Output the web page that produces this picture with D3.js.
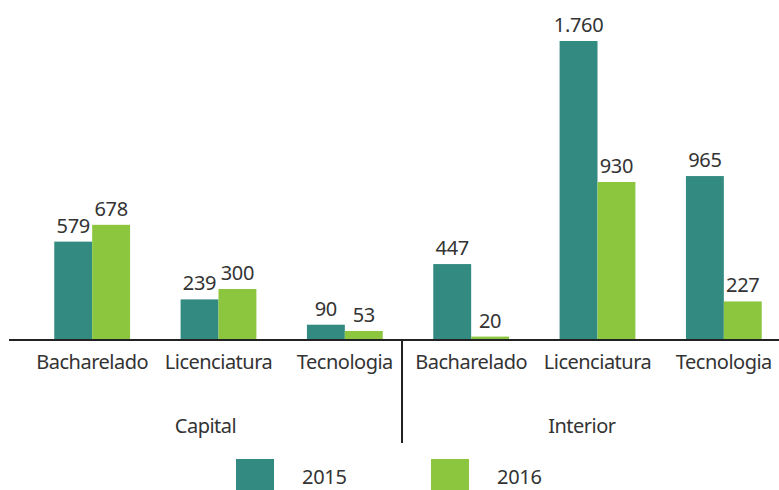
<!DOCTYPE html>
<html>
<head>
<meta charset="utf-8">
<script src="https://cdn.jsdelivr.net/npm/d3@7"></script>
<style>
  body { margin: 0; background: #fff; }
  svg { display: block; font-family: "Noto Sans", "Open Sans", sans-serif; }
</style>
</head>
<body>
<svg id="chart" width="779" height="490"></svg>
<script>
// data
var regions = ["Capital", "Interior"];
var courses = ["Bacharelado", "Licenciatura", "Tecnologia"];
var years = ["2015", "2016"];
var values2015 = [579, 239, 90, 447, 1760, 965];
var values2016 = [678, 300, 53, 20, 930, 227];

var colors = { "2015": "#338a80", "2016": "#8cc63f" };
var textColor = "#333";

var svg = d3.select("#chart");
var W = 779, H = 490;
var baseY = 340;

var pt = d3.formatLocale({ decimal: ",", thousands: ".", grouping: [3], currency: ["R$", ""] });
var fmt = pt.format(",d");

// build flat groups
var groups = [];
regions.forEach(function(r, ri) {
  courses.forEach(function(c, ci) {
    var i = ri * courses.length + ci;
    groups.push({ key: r + "|" + c, region: r, course: c, v: { "2015": values2015[i], "2016": values2016[i] } });
  });
});

var x0 = d3.scaleBand()
  .domain(groups.map(function(d) { return d.key; }))
  .range([29, 787])
  .paddingInner(0.4)
  .paddingOuter(0.2);

var x1 = d3.scaleBand()
  .domain(years)
  .range([0, x0.bandwidth()]);

var y = d3.scaleLinear()
  .domain([0, 1760])
  .range([baseY, 41]);

var g = svg.append("g");

var grp = g.selectAll("g.grp")
  .data(groups)
  .enter().append("g")
  .attr("class", "grp")
  .attr("transform", function(d) { return "translate(" + x0(d.key) + ",0)"; });

grp.selectAll("rect")
  .data(function(d) { return years.map(function(yr) { return { year: yr, value: d.v[yr] }; }); })
  .enter().append("rect")
  .attr("x", function(d) { return x1(d.year); })
  .attr("y", function(d) { return y(d.value); })
  .attr("width", x1.bandwidth())
  .attr("height", function(d) { return baseY - y(d.value); })
  .attr("fill", function(d) { return colors[d.year]; });

grp.selectAll("text.val")
  .data(function(d) { return years.map(function(yr) { return { year: yr, value: d.v[yr] }; }); })
  .enter().append("text")
  .attr("class", "val")
  .attr("x", function(d) { return x1(d.year) + x1.bandwidth() / 2; })
  .attr("y", function(d) { return y(d.value) - 9; })
  .attr("text-anchor", "middle")
  .attr("font-size", 20)
  .attr("letter-spacing", -0.3)
  .attr("fill", textColor)
  .text(function(d) { return fmt(d.value); });

// x axis line
var axisLeft = 9;
g.append("line")
  .attr("x1", axisLeft).attr("x2", W)
  .attr("y1", baseY).attr("y2", baseY)
  .attr("stroke", "#222").attr("stroke-width", 2);

// course labels
grp.append("text")
  .attr("x", x0.bandwidth() / 2)
  .attr("y", baseY + 29)
  .attr("text-anchor", "middle")
  .attr("font-size", 20)
  .attr("letter-spacing", -0.5)
  .attr("fill", textColor)
  .text(function(d) { return d.course; });

// divider between regions
var divX = 402;
g.append("line")
  .attr("x1", divX).attr("x2", divX)
  .attr("y1", baseY).attr("y2", 443)
  .attr("stroke", "#222").attr("stroke-width", 2);

// region labels
var lastKey = groups[groups.length - 1].key;
var regionCenters = [(axisLeft + divX) / 2, (divX + x0(lastKey) + x0.bandwidth()) / 2];
g.selectAll("text.region")
  .data(regions)
  .enter().append("text")
  .attr("class", "region")
  .attr("x", function(d, i) { return regionCenters[i]; })
  .attr("y", 433)
  .attr("text-anchor", "middle")
  .attr("font-size", 20)
  .attr("letter-spacing", -0.5)
  .attr("fill", textColor)
  .text(function(d) { return d; });

// legend
var legend = svg.append("g");
var lg = legend.selectAll("g")
  .data(years)
  .enter().append("g")
  .attr("transform", function(d, i) { return "translate(" + (236 + i * 195) + ",459)"; });
lg.append("rect")
  .attr("width", 38).attr("height", 31)
  .attr("fill", function(d) { return colors[d]; });
lg.append("text")
  .attr("x", 66).attr("y", 25)
  .attr("font-size", 20)
  .attr("letter-spacing", -0.3)
  .attr("fill", textColor)
  .text(function(d) { return d; });
</script>
</body>
</html>
